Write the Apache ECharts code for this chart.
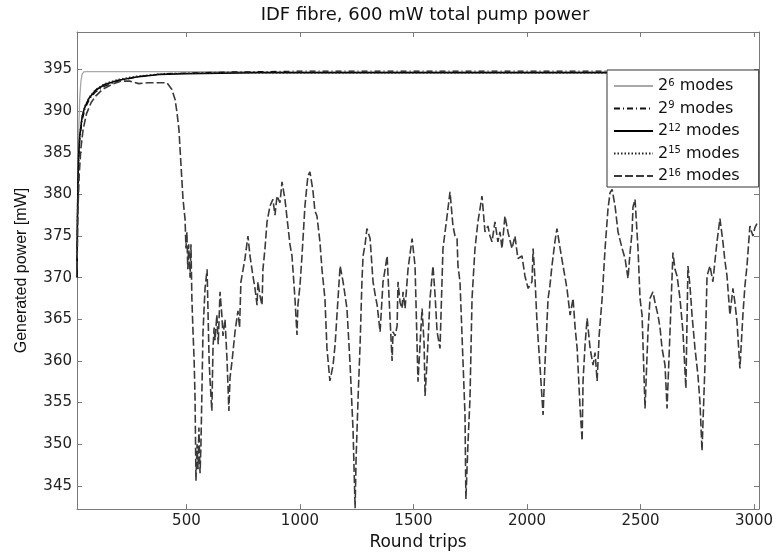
<!DOCTYPE html>
<html><head><meta charset="utf-8">
<script src="https://cdn.jsdelivr.net/npm/echarts@6/dist/echarts.min.js"></script>
<style>html,body{margin:0;padding:0;background:#fff}#c{width:777px;height:556px}</style>
</head><body><div id="c"></div>
<script>
const titleText = 'IDF fibre, 600 mW total pump power';
const xName = 'Round trips';
const yName = 'Generated power [mW]';
const xTicks = [500, 1000, 1500, 2000, 2500, 3000];
const yTicks = [345, 350, 355, 360, 365, 370, 375, 380, 385, 390, 395];
const seriesNames = ['2^6 modes', '2^9 modes', '2^12 modes', '2^15 modes', '2^16 modes'];

const modes6 = [[18,372],[22,382],[26,388],[30,391.5],[35,393.5],[40,394.4],[48,394.7],[60,394.75],[3022,394.75]];
const modes9 = [[18,372],[21,379],[25,383.5],[30,386.5],[40,388.8],[55,390.4],[75,391.5],[100,392.3],[140,393],[200,393.6],[280,394.1],[400,394.5],[700,394.7],[1000,394.8],[3022,394.8]];
const modes12 = [[18,370],[20,377],[22,381],[25,384.5],[30,387],[40,389.2],[50,390.3],[70,391.5],[100,392.5],[140,393.2],[200,393.7],[280,394.1],[380,394.4],[500,394.5],[800,394.6],[3022,394.6]];
const modes15 = [[18,373],[21,380],[25,384.5],[30,387.2],[40,389.4],[55,390.8],[75,391.8],[100,392.6],[140,393.3],[200,393.8],[280,394.2],[400,394.5],[700,394.6],[3022,394.6]];

const rounds16 = [18,22,28,35,45,60,80,100,130,170,210,250,290,330,370,414,436,450,458,467,472,485,494,498,502,506,510,516,520,524,529,534,538,542,547,551,555,560,564,569,573,582,591,595,600,604,612,617,622,626,634,640,648,656,661,670,679,687,692,701,714,727,734,740,758,771,780,793,802,811,815,824,833,837,846,855,868,881,890,899,912,921,934,947,956,965,978,987,991,1000,1009,1022,1035,1044,1057,1066,1075,1088,1097,1110,1119,1132,1146,1155,1163,1177,1190,1207,1221,1234,1243,1247,1256,1265,1273,1278,1287,1295,1309,1322,1331,1340,1353,1366,1375,1384,1388,1397,1406,1410,1419,1428,1432,1441,1450,1454,1463,1476,1494,1507,1520,1529,1538,1547,1551,1560,1573,1586,1595,1604,1617,1630,1648,1661,1674,1683,1692,1696,1705,1714,1727,1731,1740,1749,1758,1771,1784,1802,1815,1828,1837,1846,1859,1872,1881,1890,1903,1916,1934,1947,1960,1978,1991,2005,2022,2027,2036,2044,2057,2071,2079,2093,2101,2110,2123,2132,2146,2159,2168,2176,2190,2203,2212,2221,2234,2243,2247,2256,2265,2278,2291,2300,2309,2318,2331,2344,2357,2366,2375,2388,2401,2419,2432,2445,2454,2463,2467,2476,2489,2498,2507,2520,2533,2542,2555,2564,2577,2586,2595,2608,2617,2630,2643,2652,2661,2674,2687,2700,2709,2718,2727,2740,2753,2762,2771,2784,2793,2806,2819,2828,2837,2850,2863,2872,2881,2894,2907,2916,2925,2938,2951,2960,2969,2982,2995,3004,3013];
const power16 = [371,378,382.5,385.5,387.8,389.7,391,391.8,392.6,393.2,393.6,393.6,393.3,393.4,393.4,393.4,392.6,391.4,389.9,387.8,385.4,379.4,377,373.5,375.5,371,374,370,374,367.5,363.5,360,355.5,345.6,350,347,352,346.5,350,357.5,363.5,368.7,371,366,360,357.7,354,361.5,364,362.5,365.5,362,368.3,365.5,363,365,360,354,358,360,363.5,366,364,369.5,372.3,375,372.6,370.2,368.7,366.7,369.5,367.8,366.7,371,373.5,376.7,378.6,379.4,377.5,379.8,379,381.5,379.4,376.2,374,372.6,367.5,363.1,366.7,369,372.6,378.6,382.2,382.7,380.5,378,377.4,374.3,371,367.5,361.5,357.6,359.5,362,365.5,371.4,369.5,366.3,359.5,351.6,342.3,348,355.5,362,369.5,372.6,374,375.9,374.7,369.5,368,366.7,363.5,369.5,371,372.6,370.2,365,360,363.5,363,364.2,369.5,367,366.3,368.3,366.3,371,374.7,371.4,357.5,362,366.3,362,355.8,360,367.5,371.4,368,363.5,361.5,373.5,377.4,380.3,376.2,375,374.7,371.4,369.5,363,353.5,343.4,350,355.5,367.5,373.5,376.7,379.8,375.5,376.2,375,374.3,376.7,374.3,375.5,373.5,377.4,375.5,373.5,375,372.3,372.6,370.2,368.7,369.5,373.5,369.5,364.7,359.5,353.5,359.5,367.5,369,371.4,374.3,375.9,373.5,371.4,370,368.7,365.5,367.5,364,361.5,354.3,350.4,357.6,362,365.1,361.5,359.5,361,357.6,363.1,367.5,373.5,378.3,380.2,380.6,378.6,375.5,373.5,372.3,369.9,373,375.5,378.5,379.4,373.5,367.5,365.5,354.3,363.5,367.5,368.3,367,365.5,364,361.5,359.5,354.3,363.5,373,371,370.2,367.5,363.5,356.7,371.4,369,365.5,361.5,358.3,355,349.2,359.5,370.2,371.4,369.5,372,374.3,377.1,374.3,372,370.2,365.5,368.7,367,364.7,359.1,365.5,369,371.4,376.2,375,376,376.5];

const modes16 = rounds16.map((r, i) => [r, power16[i]]);

const supMap = {'2^6 modes':'2{s|6}{n| modes}','2^9 modes':'2{s|9}{n| modes}','2^12 modes':'2{s|12}{n| modes}','2^15 modes':'2{s|15}{n| modes}','2^16 modes':'2{s|16}{n| modes}'};

const chart = echarts.init(document.getElementById('c'));
const FONT = '"DejaVu Sans", "Liberation Sans", sans-serif';
const FONT2 = '"Liberation Sans", Arial, sans-serif';
const axisGray = '#7a7a7a';

function mk(name, data, color, width, type) {
  return {name, type:'line', data, symbol:'none', showSymbol:false, animation:false,
    lineStyle:{color, width, type}, itemStyle:{color}, z: 2};
}

chart.setOption({
  backgroundColor:'#fff',
  animation:false,
  title:{text:titleText, left:420, textAlign:'center', top:1, textStyle:{fontFamily:FONT, fontSize:18, fontWeight:'normal', color:'#111'}},
  grid:{left:77, right:18, top:32, bottom:44, containLabel:false},
  legend:{
    orient:'vertical', left:607, top:70,
    backgroundColor:'#fff', borderColor:'#333', borderWidth:1,
    padding:[8,19,3,6], itemGap:6.5, itemWidth:39, itemHeight:14,
    data:seriesNames,
    itemStyle:{opacity:0, borderWidth:0},
    formatter:(n)=>supMap[n],
    textStyle:{fontFamily:FONT, fontSize:16, color:'#111',
      rich:{n:{fontFamily:FONT, fontSize:16, color:'#111'}, s:{fontFamily:FONT, fontSize:10, color:'#111', verticalAlign:'top', padding:[0,0,6,0]}}}
  },
  xAxis:[{
    type:'value', min:18, max:3022, name:xName, nameLocation:'middle', nameGap:20,
    nameTextStyle:{fontFamily:FONT, fontSize:17, color:'#111'},
    axisLine:{show:true, lineStyle:{color:axisGray}},
    axisTick:{show:true, inside:true, length:5, customValues:xTicks, lineStyle:{color:axisGray}},
    axisLabel:{customValues:xTicks, formatter:(v)=>String(v), fontFamily:FONT, fontSize:15, color:'#222', margin:5},
    splitLine:{show:false}
  },{
    type:'value', position:'top', min:18, max:3022,
    axisLine:{show:true, lineStyle:{color:axisGray}},
    axisTick:{show:true, inside:true, length:5, customValues:xTicks, lineStyle:{color:axisGray}},
    axisLabel:{show:false}, splitLine:{show:false}
  }],
  yAxis:[{
    type:'value', min:342.2, max:399.5, name:yName, nameLocation:'middle', nameGap:47,
    nameTextStyle:{fontFamily:FONT2, fontSize:16, color:'#111'},
    axisLine:{show:true, lineStyle:{color:axisGray}},
    axisTick:{show:true, inside:true, length:5, customValues:yTicks, lineStyle:{color:axisGray}},
    axisLabel:{customValues:yTicks, fontFamily:FONT, fontSize:15, color:'#222', margin:5},
    splitLine:{show:false}
  },{
    type:'value', position:'right', min:342.2, max:399.5,
    axisLine:{show:true, lineStyle:{color:axisGray}},
    axisTick:{show:true, inside:true, length:5, customValues:yTicks, lineStyle:{color:axisGray}},
    axisLabel:{show:false}, splitLine:{show:false}
  }],
  series:[
    mk(seriesNames[0], modes6, '#a8a8a8', 1.3, 'solid'),
    mk(seriesNames[1], modes9, '#111', 1.2, [6,3,1,3]),
    mk(seriesNames[2], modes12, '#000', 1.6, 'solid'),
    mk(seriesNames[3], modes15, '#222', 1.3, [1.5,2]),
    mk(seriesNames[4], modes16, '#3a3a3a', 1.6, [8,3])
  ]
});
</script></body></html>
